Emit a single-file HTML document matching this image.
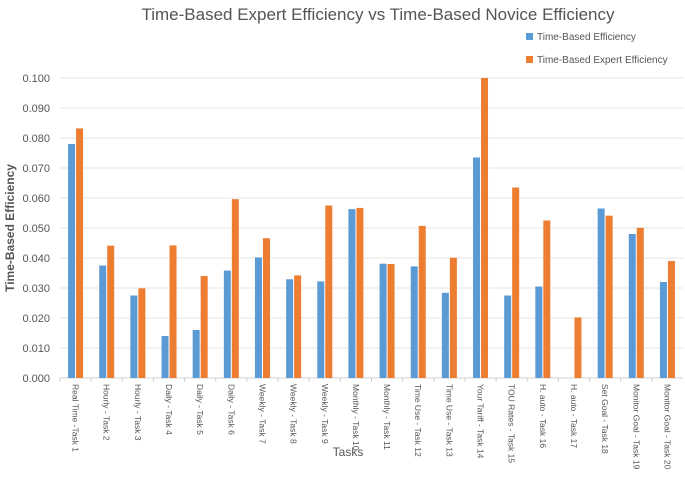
<!DOCTYPE html>
<html><head><meta charset="utf-8"><style>
body{margin:0;background:#fff;font-family:"Liberation Sans",sans-serif}
svg{display:block}
</style></head><body>
<svg id="chart" width="685" height="487">
<text x="378" y="20" text-anchor="middle" font-size="17" fill="#555">Time-Based Expert Efficiency vs Time-Based Novice Efficiency</text>
<g>
<rect x="526" y="33" width="7" height="7" fill="#5b9bd5"/>
<text x="537" y="40" font-size="10" fill="#555">Time-Based Efficiency</text>
<rect x="526" y="56" width="7" height="7" fill="#ed7d31"/>
<text x="537" y="63" font-size="10" fill="#555">Time-Based Expert Efficiency</text>
</g>
<text transform="translate(14,228) rotate(-90)" text-anchor="middle" font-size="12" font-weight="bold" fill="#555">Time-Based Efficiency</text>
<text x="348" y="456" text-anchor="middle" font-size="12" fill="#555">Tasks</text>
<g id="plot"></g>
</svg>
<script>
const categories=["Real Time -Task 1","Hourly - Task 2","Hourly - Task 3","Daily - Task 4","Daily - Task 5","Daily - Task 6","Weekly - Task 7","Weekly - Task 8","Weekly - Task 9","Monthly - Task 10","Monthly - Task 11","Time Use - Task 12","Time Use - Task 13","Your Tariff - Task 14","TOU Rates - Task 15","H. auto - Task 16","H. auto - Task 17","Set Goal - Task 18","Monitor Goal - Task 19","Monitor Goal - Task 20"];
const noviceValues=[0.078,0.0375,0.0275,0.014,0.016,0.0358,0.0402,0.0329,0.0322,0.0563,0.0381,0.0372,0.0284,0.0735,0.0275,0.0305,0,0.0565,0.048,0.032];
const expertValues=[0.0832,0.0441,0.0299,0.0442,0.034,0.0596,0.0466,0.0342,0.0575,0.0567,0.038,0.0507,0.0401,0.100,0.0635,0.0525,0.0202,0.0541,0.0501,0.039];
const yTicks=[0,0.01,0.02,0.03,0.04,0.05,0.06,0.07,0.08,0.09,0.1];
const ns="http://www.w3.org/2000/svg";
const g=document.getElementById('plot');
const plotLeft=60,plotRight=683,plotTop=78,plotBottom=378,yMax=0.1;
const band=(plotRight-plotLeft)/categories.length;
function yPos(v){return plotBottom-(v/yMax)*(plotBottom-plotTop);}
function xPos(i){return plotLeft+band*(i+0.5);}
function mk(t,a){const e=document.createElementNS(ns,t);for(const k in a)e.setAttribute(k,a[k]);g.appendChild(e);return e;}
yTicks.forEach((t,i)=>{
 const l=mk('line',{x1:plotLeft,x2:plotRight,y1:yPos(t),y2:yPos(t),stroke:i===0?'#d0d0d0':'#e6e6e6','stroke-width':1});
 
 
 const tx=mk('text',{x:50,y:yPos(t)+4,'text-anchor':'end','font-size':11,fill:'#555'});
 tx.textContent=t.toFixed(3);
 
 
});
categories.forEach((c,i)=>{
 const tk=mk('line',{x1:plotLeft+band*i,x2:plotLeft+band*i,y1:plotBottom,y2:plotBottom+4,stroke:'#d0d0d0'});
 
 
 const b1=mk('rect',{x:xPos(i)-7.5,y:yPos(noviceValues[i]),width:7,height:plotBottom-yPos(noviceValues[i]),fill:'#5b9bd5'});
 
 
 const b2=mk('rect',{x:xPos(i)+0.5,y:yPos(expertValues[i]),width:7,height:plotBottom-yPos(expertValues[i]),fill:'#ed7d31'});
 
 
 const tx=mk('text',{transform:`translate(${xPos(i)-3},384) rotate(90)`,'font-size':8.5,fill:'#555'});
 tx.textContent=c;
 
 
});
</script>
</body></html>
